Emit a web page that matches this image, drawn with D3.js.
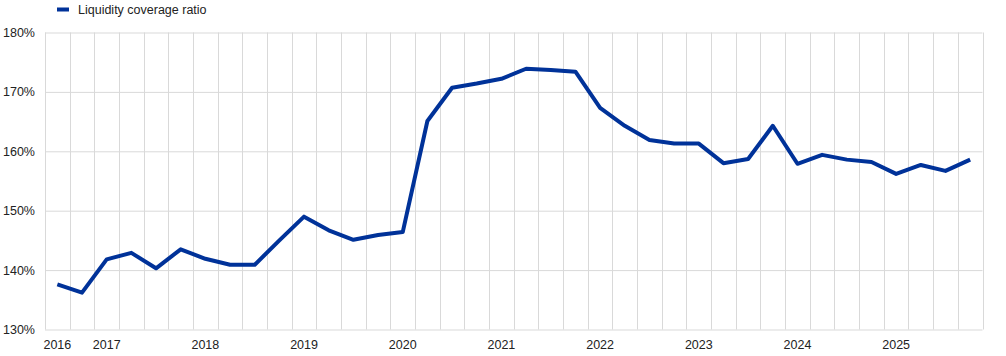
<!DOCTYPE html>
<html>
<head>
<meta charset="utf-8">
<script src="https://cdn.jsdelivr.net/npm/d3@7"></script>
<style>
  body { margin: 0; background: #fff; }
  svg { display: block; font-family: Arial, "Liberation Sans", sans-serif; }
</style>
</head>
<body>
<svg width="1006" height="356"></svg>
<script>
// quarterly observations, 2016Q3 .. 2025Q4
let quarters = [
  '2016Q3','2016Q4',
  '2017Q1','2017Q2','2017Q3','2017Q4',
  '2018Q1','2018Q2','2018Q3','2018Q4',
  '2019Q1','2019Q2','2019Q3','2019Q4',
  '2020Q1','2020Q2','2020Q3','2020Q4',
  '2021Q1','2021Q2','2021Q3','2021Q4',
  '2022Q1','2022Q2','2022Q3','2022Q4',
  '2023Q1','2023Q2','2023Q3','2023Q4',
  '2024Q1','2024Q2','2024Q3','2024Q4',
  '2025Q1','2025Q2','2025Q3','2025Q4'
];
let lcr = [
  137.6, 136.2,
  141.8, 142.9, 140.3, 143.5,
  141.9, 140.9, 140.9, 145.0,
  149.0, 146.7, 145.1, 145.9,
  146.4, 165.1, 170.7, 171.4,
  172.2, 173.9, 173.7, 173.4,
  167.3, 164.3, 161.9, 161.3,
  161.3, 158.0, 158.7, 164.3,
  157.9, 159.4, 158.6, 158.2,
  156.2, 157.7, 156.7, 158.6
];
let yTicks = [130, 140, 150, 160, 170, 180];
let xLabels = ['2016Q3','2017Q1','2018Q1','2019Q1','2020Q1','2021Q1','2022Q1','2023Q1','2024Q1','2025Q1'];
let seriesName = 'Liquidity coverage ratio';

let plotLeft = 45, plotRight = 982.5, plotTop = 32.5, plotBottom = 329.5;
let blue = '#003299', grid = '#d9d9d9';

let svg = d3.select('svg');

let xScale = d3.scaleBand()
               .domain(quarters)
               .range([plotLeft, plotRight])
               .padding(0),
    yScale = d3.scaleLinear()
               .domain([130, 180])
               .range([plotBottom, plotTop]);

// vertical gridlines at quarter edges
let edges = quarters.map(q => xScale(q)).concat([plotRight]);
svg.append('g')
  .selectAll('line')
  .data(edges)
  .enter()
  .append('line')
    .attr('x1', d => Math.round(d) + 0.5)
    .attr('x2', d => Math.round(d) + 0.5)
    .attr('y1', plotTop)
    .attr('y2', plotBottom)
    .attr('stroke', grid)
    .attr('stroke-width', 1);

// horizontal gridlines + y axis labels
let yAxis = d3.axisLeft(yScale)
              .tickValues(yTicks)
              .tickSize(plotLeft - plotRight)
              .tickSizeOuter(0)
              .tickPadding(10)
              .tickFormat(d => d + '%');
let yg = svg.append('g')
  .attr('transform', `translate(${plotLeft}, 0)`)
  .call(yAxis);
yg.select('.domain').remove();
yg.selectAll('.tick line')
  .attr('stroke', grid);
yg.selectAll('.tick text')
  .attr('x', -10)
  .attr('font-size', 12.5)
  .attr('fill', '#222')
  .attr('font-family', 'Arial, "Liberation Sans", sans-serif');

// x axis year labels
let xAxis = d3.axisBottom(xScale)
              .tickValues(xLabels)
              .tickSize(0)
              .tickPadding(11)
              .tickFormat(d => d.slice(0, 4));
let xg = svg.append('g')
  .attr('transform', `translate(0, ${plotBottom})`)
  .call(xAxis);
xg.select('.domain').remove();
xg.selectAll('.tick text')
  .attr('font-size', 12.5)
  .attr('fill', '#222')
  .attr('font-family', 'Arial, "Liberation Sans", sans-serif');

// the series
let line = d3.line()
  .x((d, i) => xScale(quarters[i]) + xScale.bandwidth() / 2)
  .y(d => yScale(d));

svg.append('path')
  .datum(lcr)
  .attr('d', line)
  .attr('fill', 'none')
  .attr('stroke', blue)
  .attr('stroke-width', 4)
  .attr('stroke-linejoin', 'round');

// legend
svg.append('rect')
  .attr('x', 57)
  .attr('y', 7.5)
  .attr('width', 12)
  .attr('height', 4)
  .attr('fill', blue);
svg.append('text')
  .attr('x', 78)
  .attr('y', 14)
  .attr('font-size', 12.5)
  .attr('fill', '#222')
  .text(seriesName);
</script>
</body>
</html>
